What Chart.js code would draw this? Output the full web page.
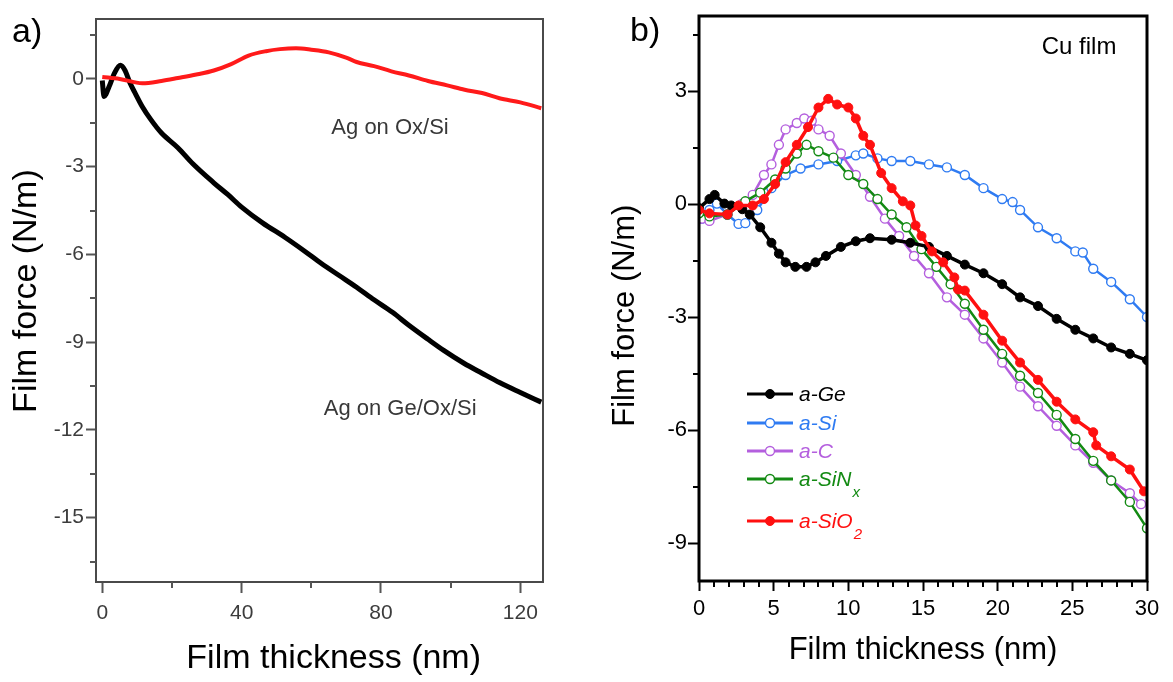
<!DOCTYPE html>
<html>
<head>
<meta charset="utf-8">
<script src="https://cdn.jsdelivr.net/npm/chart.js@4.4.1/dist/chart.umd.min.js"></script>
<style>
  html, body { margin: 0; padding: 0; background: #fff; }
  #wrap { position: relative; width: 1173px; height: 682px; overflow: hidden; }
  #chartA { position: absolute; left: 0; top: 0; }
  #chartB { position: absolute; left: 590px; top: 0; }
  .tag { position: absolute; font-family: 'Liberation Sans', Arial, sans-serif; font-size: 34px; color: #000; line-height: 1; }
</style>
</head>
<body>
<div id="wrap">
  <canvas id="chartA" width="600" height="682"></canvas>
  <canvas id="chartB" width="583" height="682"></canvas>
  <div class="tag" style="left:12px;top:13px">a)</div>
  <div class="tag" style="left:630px;top:12px">b)</div>
</div>
<script>
// panel a: Ag films (thickness nm, force N/m)
const agOxX = [0, 5, 11.5, 17, 21.7, 27, 32, 37, 42, 47, 51, 55.6, 60, 65, 70, 73, 78, 83, 88, 93.5, 99, 104, 109, 114, 120, 126];
const agOxY = [0.07, 0, -0.15, -0.07, 0.03, 0.15, 0.29, 0.51, 0.8, 0.95, 1.02, 1.05, 1.0, 0.91, 0.73, 0.58, 0.44, 0.26, 0.12, -0.07, -0.22, -0.37, -0.48, -0.66, -0.8, -1.0];
const agGeX = [0, 0.5, 2, 3.5, 5.2, 6.5, 8, 9.5, 11.5, 14, 17, 21.7, 26, 32, 36, 40, 46, 52.5, 58, 62.8, 68, 73, 78, 83.3, 88, 93.5, 98, 103.8, 109, 114, 120, 126];
const agGeY = [-0.05, -0.6, -0.25, 0.2, 0.47, 0.3, -0.15, -0.5, -0.95, -1.4, -1.85, -2.35, -2.9, -3.55, -3.95, -4.38, -4.92, -5.42, -5.88, -6.3, -6.72, -7.12, -7.55, -7.98, -8.42, -8.9, -9.28, -9.72, -10.06, -10.38, -10.72, -11.05];
const aTicksX = [0, 40, 80, 120];
const aMinorX = [20, 60, 100];
const aTicksY = [0, -3, -6, -9, -12, -15];
const aMinorY = [1.5, -1.5, -4.5, -7.5, -10.5, -13.5, -16.5];

// panel b: Cu films on amorphous layers
const geX = [0, 0.7, 1.05, 1.7, 2.15, 2.9, 3.4, 4.1, 4.85, 5.35, 5.8, 6.45, 7.2, 7.8, 8.5, 9.5, 10.5, 11.45, 12.9, 14.15, 15.4, 16.6, 17.8, 19.05, 20.3, 21.5, 22.7, 23.95, 25.2, 26.4, 27.6, 28.85, 30];
const geY = [-0.1, 0.14, 0.25, 0.02, -0.03, -0.13, -0.27, -0.61, -1.02, -1.31, -1.54, -1.66, -1.66, -1.54, -1.37, -1.13, -0.98, -0.9, -0.94, -1.02, -1.13, -1.37, -1.6, -1.83, -2.12, -2.47, -2.7, -3.04, -3.33, -3.56, -3.8, -3.97, -4.14];
const siX = [0.2, 0.7, 1.2, 1.9, 2.65, 3.1, 3.9, 4.85, 5.8, 6.8, 8.0, 9.25, 10.5, 11.0, 11.95, 12.9, 14.15, 15.4, 16.6, 17.8, 19.05, 20.3, 21.0, 21.5, 22.7, 23.95, 25.2, 25.7, 26.4, 27.6, 28.85, 30];
const siY = [-0.38, -0.15, 0.02, -0.27, -0.52, -0.5, -0.15, 0.43, 0.78, 0.95, 1.06, 1.15, 1.3, 1.35, 1.22, 1.15, 1.15, 1.06, 0.98, 0.78, 0.43, 0.14, 0.06, -0.15, -0.61, -0.9, -1.25, -1.28, -1.71, -2.06, -2.52, -2.99];
const cX = [0.2, 0.7, 1.9, 2.9, 3.6, 4.35, 4.85, 5.35, 5.8, 6.55, 7.05, 7.55, 8.0, 8.75, 9.5, 10.5, 11.45, 12.45, 13.4, 14.4, 15.4, 16.6, 17.8, 19.05, 20.3, 21.5, 22.7, 23.95, 25.2, 26.4, 27.6, 28.85, 29.6];
const cY = [-0.38, -0.44, -0.27, 0.02, 0.25, 0.78, 1.06, 1.58, 1.99, 2.16, 2.28, 2.22, 1.99, 1.82, 1.35, 0.78, 0.2, -0.38, -0.84, -1.37, -1.83, -2.47, -2.93, -3.56, -4.2, -4.84, -5.36, -5.88, -6.4, -6.86, -7.33, -7.67, -7.96];
const sinX = [0, 0.7, 1.9, 3.1, 4.1, 5.1, 5.8, 6.55, 7.2, 8.0, 9.0, 10.0, 11.0, 11.95, 12.9, 13.9, 14.9, 15.9, 16.85, 17.8, 19.05, 20.3, 21.5, 22.7, 23.95, 25.2, 26.4, 27.6, 28.85, 30];
const sinY = [-0.24, -0.32, -0.27, 0.08, 0.31, 0.66, 0.95, 1.35, 1.58, 1.41, 1.24, 0.78, 0.54, 0.14, -0.27, -0.61, -1.19, -1.66, -2.12, -2.64, -3.33, -3.97, -4.55, -5.01, -5.59, -6.23, -6.81, -7.33, -7.9, -8.6];
const sioX = [0, 0.7, 1.9, 2.65, 3.6, 4.35, 5.1, 5.8, 6.55, 7.3, 8.0, 8.65, 9.25, 10.0, 10.5, 11.0, 11.45, 12.2, 12.9, 13.65, 14.15, 14.5, 14.9, 15.6, 16.35, 17.1, 17.35, 17.8, 19.05, 20.3, 21.5, 22.7, 23.95, 25.2, 26.4, 26.6, 27.6, 28.85, 29.8];
const sioY = [-0.15, -0.24, -0.27, -0.03, -0.03, 0.14, 0.54, 1.12, 1.58, 2.05, 2.57, 2.8, 2.65, 2.57, 2.28, 1.82, 1.58, 0.83, 0.43, 0.08, -0.03, -0.56, -0.84, -1.25, -1.54, -1.94, -2.26, -2.29, -2.93, -3.62, -4.2, -4.66, -5.24, -5.71, -6.05, -6.4, -6.69, -7.04, -7.62];
const bTicksX = [0, 5, 10, 15, 20, 25, 30];
const bMinorX = [1, 2, 3, 4, 6, 7, 8, 9, 11, 12, 13, 14, 16, 17, 18, 19, 21, 22, 23, 24, 26, 27, 28, 29];
const bTicksY = [3, 0, -3, -6, -9];
const bMinorY = [4.5, 1.5, -1.5, -4.5, -7.5];
const keySubs = ['', '', '', 'x', '2'];

const pts = (xs, ys) => xs.map((v, i) => ({x: v, y: ys[i]}));
const FONT = "'Liberation Sans', Arial, sans-serif";

const frame = {
  id: 'frame',
  afterDatasetsDraw(chart, args, opts) {
    const {ctx, chartArea: a} = chart;
    ctx.save();
    ctx.strokeStyle = opts.color;
    ctx.lineWidth = opts.width;
    ctx.strokeRect(a.left, a.top, a.right - a.left, a.bottom - a.top);
    ctx.restore();
  }
};

const minorTicks = {
  id: 'minorTicks',
  afterDraw(chart, args, opts) {
    const {ctx, chartArea: a, scales} = chart;
    ctx.save();
    ctx.strokeStyle = opts.color;
    ctx.lineWidth = opts.width;
    ctx.beginPath();
    opts.x.forEach(v => {
      const px = Math.round(scales.x.getPixelForValue(v));
      ctx.moveTo(px, a.bottom);
      ctx.lineTo(px, a.bottom + opts.len);
    });
    opts.y.forEach(v => {
      const py = Math.round(scales.y.getPixelForValue(v));
      ctx.moveTo(a.left, py);
      ctx.lineTo(a.left - opts.len, py);
    });
    ctx.stroke();
    ctx.restore();
  }
};

const notes = {
  id: 'notes',
  afterDatasetsDraw(chart, args, opts) {
    const {ctx, scales: {x, y}} = chart;
    ctx.save();
    ctx.textAlign = 'center';
    ctx.textBaseline = 'middle';
    opts.items.forEach(n => {
      ctx.font = n.font;
      ctx.fillStyle = n.color;
      ctx.fillText(n.text, x.getPixelForValue(n.x), y.getPixelForValue(n.y));
    });
    ctx.restore();
  }
};

// legend of panel b, drawn inside the plot with subscripts
const seriesKey = {
  id: 'seriesKey',
  afterDraw(chart, args, opts) {
    const {ctx, chartArea: a} = chart;
    ctx.save();
    chart.data.datasets.forEach((ds, i) => {
      const y = a.top + opts.rows[i];
      const x0 = a.left + opts.x0, x1 = a.left + opts.x1, xm = (x0 + x1) / 2;
      ctx.strokeStyle = ds.borderColor;
      ctx.lineWidth = 3;
      ctx.beginPath();
      ctx.moveTo(x0, y);
      ctx.lineTo(x1, y);
      ctx.stroke();
      ctx.beginPath();
      ctx.arc(xm, y, ds.pointRadius, 0, Math.PI * 2);
      ctx.fillStyle = ds.pointBackgroundColor;
      ctx.fill();
      ctx.lineWidth = ds.pointBorderWidth;
      ctx.strokeStyle = ds.pointBorderColor;
      ctx.stroke();
      ctx.fillStyle = ds.keyColor;
      ctx.textBaseline = 'middle';
      ctx.textAlign = 'left';
      ctx.font = 'italic 21px ' + FONT;
      ctx.fillText(ds.label, a.left + opts.tx, y + 1);
      if (keySubs[i]) {
        const w = ctx.measureText(ds.label).width;
        ctx.font = 'italic 15px ' + FONT;
        ctx.fillText(keySubs[i], a.left + opts.tx + w + 1, y + 14);
      }
    });
    ctx.restore();
  }
};

function fixedBox(w, h) {
  return s => { if (w) s.width = w; if (h) s.height = h; };
}
function onlyTicks(arr) {
  return s => { s.ticks = arr.map(v => ({value: v})); };
}

new Chart(document.getElementById('chartA'), {
  type: 'line',
  data: {
    datasets: [
      { label: 'Ag on Ox/Si', data: pts(agOxX, agOxY), borderColor: '#ff1a1a', borderWidth: 4, pointRadius: 0, cubicInterpolationMode: 'monotone' },
      { label: 'Ag on Ge/Ox/Si', data: pts(agGeX, agGeY), borderColor: '#000', borderWidth: 5, pointRadius: 0, cubicInterpolationMode: 'monotone' }
    ]
  },
  options: {
    responsive: false,
    animation: false,
    devicePixelRatio: 1,
    layout: { padding: { left: 0, right: 57, top: 19, bottom: 0 } },
    scales: {
      x: {
        type: 'linear', min: -1.8, max: 126.5,
        afterFit: fixedBox(0, 100),
        afterBuildTicks: onlyTicks(aTicksX),
        grid: { drawOnChartArea: false, tickLength: 11, tickWidth: 2, tickColor: '#555' },
        border: { display: false },
        ticks: { padding: 8, color: '#3c3c3c', font: { family: FONT, size: 21 } },
        title: { display: true, text: '\u00a0\u00a0\u00a0Film thickness (nm)', color: '#000', font: { family: FONT, size: 34 }, padding: { bottom: 3 } }
      },
      y: {
        type: 'linear', min: -17.2, max: 2.05,
        afterFit: fixedBox(96, 0),
        afterBuildTicks: onlyTicks(aTicksY),
        grid: { drawOnChartArea: false, tickLength: 10, tickWidth: 2, tickColor: '#555' },
        border: { display: false },
        ticks: { padding: 2, color: '#3c3c3c', font: { family: FONT, size: 21 } },
        title: { display: true, text: '\u00a0\u00a0Film force (N/m)', color: '#000', font: { family: FONT, size: 34 }, padding: { top: 6 } }
      }
    },
    plugins: {
      legend: { display: false },
      tooltip: { enabled: false },
      frame: { color: '#4a4a4a', width: 2 },
      minorTicks: { x: aMinorX, y: aMinorY, len: 6, color: '#555', width: 2 },
      notes: { items: [
        { text: 'Ag on Ox/Si', x: 82.6, y: -1.67, font: '22px ' + FONT, color: '#383838' },
        { text: 'Ag on Ge/Ox/Si', x: 85.5, y: -11.27, font: '22px ' + FONT, color: '#383838' }
      ] }
    }
  },
  plugins: [frame, minorTicks, notes]
});

function openSeries(label, xs, ys, color, order) {
  return { label, data: pts(xs, ys), order, borderColor: color, borderWidth: 2.5, pointRadius: 4.5,
    pointBackgroundColor: '#fff', pointBorderColor: color, pointBorderWidth: 1.4, keyColor: color };
}
function solidSeries(label, xs, ys, color, order, keyColor) {
  return { label, data: pts(xs, ys), order, borderColor: color, borderWidth: 3.5, pointRadius: 4.5,
    pointBackgroundColor: color, pointBorderColor: color, pointBorderWidth: 1, keyColor };
}

new Chart(document.getElementById('chartB'), {
  type: 'line',
  data: {
    datasets: [
      solidSeries('a-Ge', geX, geY, '#000', 1, '#000'),
      openSeries('a-Si', siX, siY, '#2f7bf2', 4),
      openSeries('a-C', cX, cY, '#b45fde', 3),
      openSeries('a-SiN', sinX, sinY, '#138a13', 2),
      solidSeries('a-SiO', sioX, sioY, '#ff1010', 0, '#ff1010')
    ]
  },
  options: {
    responsive: false,
    animation: false,
    devicePixelRatio: 1,
    layout: { padding: { left: 0, right: 26, top: 16, bottom: 0 } },
    scales: {
      x: {
        type: 'linear', min: 0, max: 30,
        afterFit: fixedBox(0, 101),
        afterBuildTicks: onlyTicks(bTicksX),
        grid: { drawOnChartArea: false, tickLength: 10, tickWidth: 2, tickColor: '#000' },
        border: { display: false },
        ticks: { padding: 5, color: '#000', font: { family: FONT, size: 22 } },
        title: { display: true, text: 'Film thickness (nm)', color: '#000', font: { family: FONT, size: 31 }, padding: { bottom: 13 } }
      },
      y: {
        type: 'linear', min: -10.0, max: 5,
        afterFit: fixedBox(109, 0),
        afterBuildTicks: onlyTicks(bTicksY),
        grid: { drawOnChartArea: false, tickLength: 11, tickWidth: 2, tickColor: '#000' },
        border: { display: false },
        ticks: { padding: 1, color: '#000', font: { family: FONT, size: 22 } },
        title: { display: true, text: 'Film force (N/m)\u00a0\u00a0\u00a0\u00a0', color: '#000', font: { family: FONT, size: 31 }, padding: { top: 17 } }
      }
    },
    plugins: {
      legend: { display: false },
      tooltip: { enabled: false },
      frame: { color: '#000', width: 3 },
      minorTicks: { x: bMinorX, y: bMinorY, len: 6, color: '#000', width: 2 },
      notes: { items: [
        { text: 'Cu film', x: 25.45, y: 4.16, font: '24px ' + FONT, color: '#000' }
      ] },
      seriesKey: { rows: [378, 407, 435, 463, 505], x0: 48, x1: 94, tx: 100 }
    }
  },
  plugins: [frame, minorTicks, notes, seriesKey]
});
</script>
</body>
</html>
